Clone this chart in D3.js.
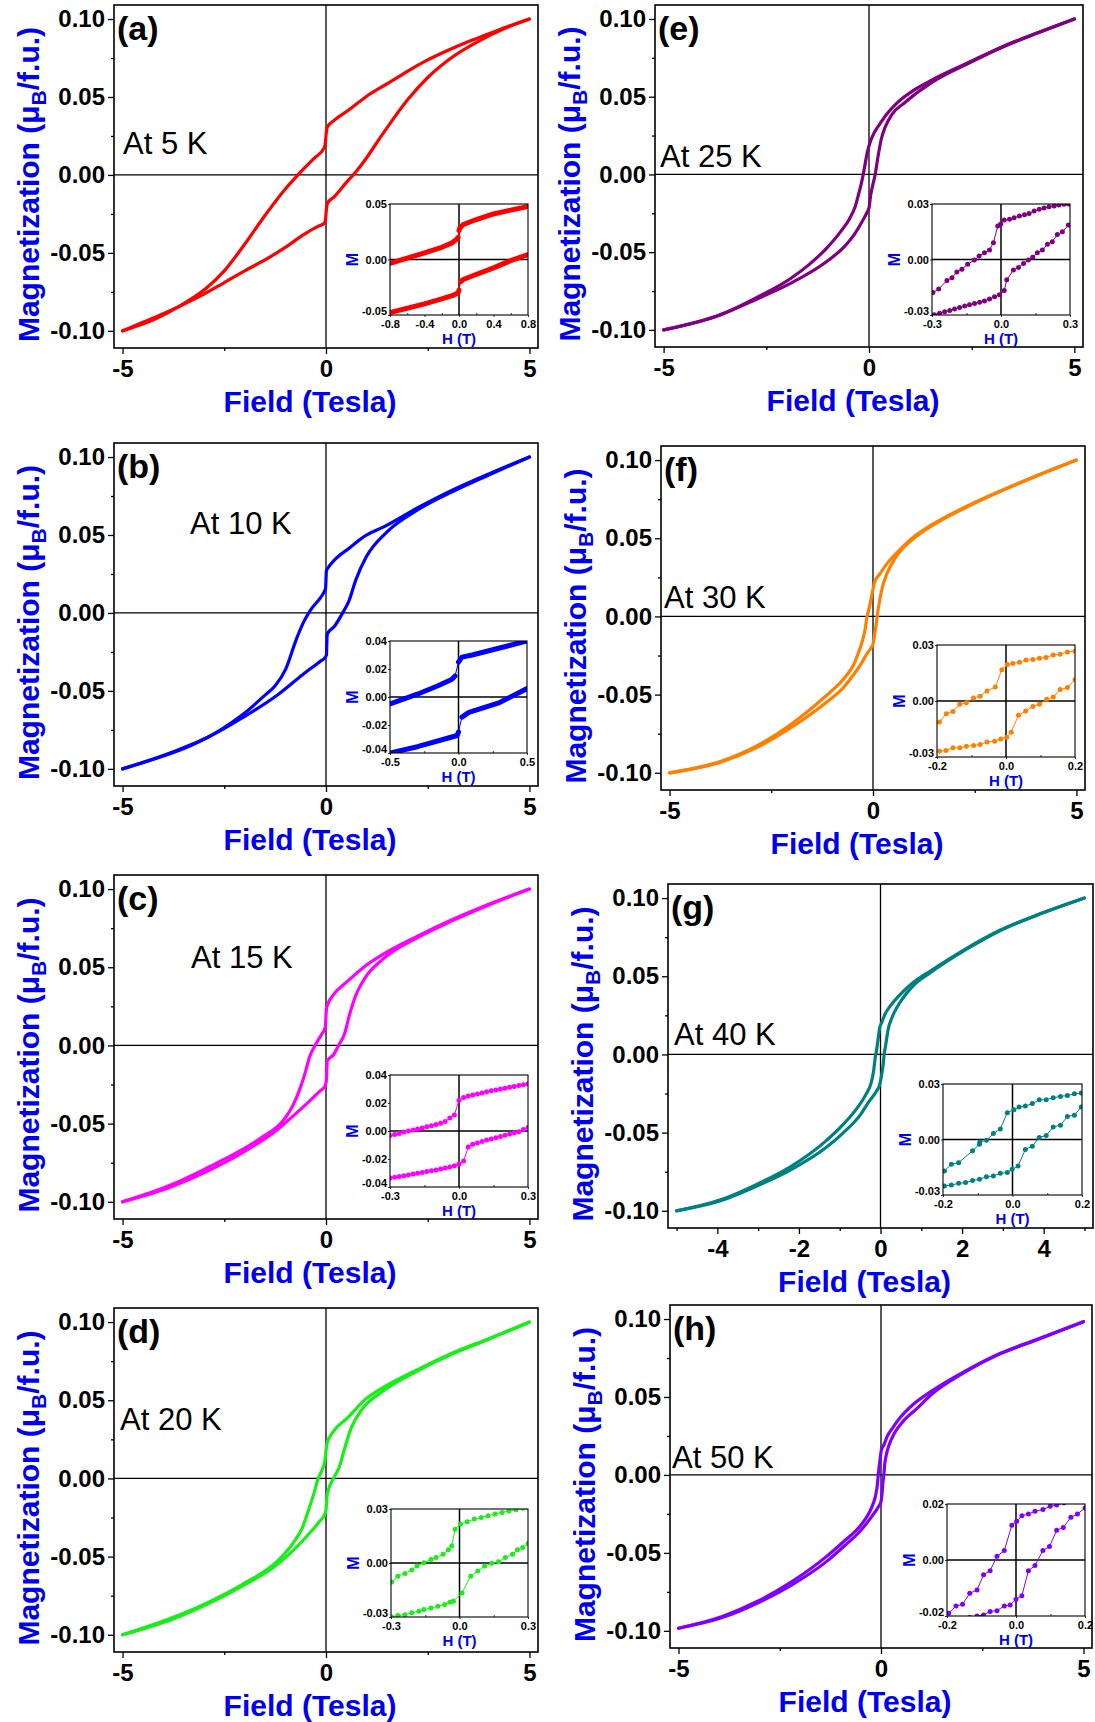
<!DOCTYPE html>
<html><head><meta charset="utf-8">
<script src="https://cdn.jsdelivr.net/npm/d3@7"></script>
<style>
html,body{margin:0;padding:0;background:#fff;}
svg{display:block;}
</style></head><body>
<svg id="fig" width="1095" height="1722"></svg>
<script>
// ---------- data: M-H hysteresis loops (H in Tesla, M in muB/f.u.) ----------
const panelIds = ["a", "b", "c", "d", "e", "f", "g", "h"];
const temperatures = [5, 10, 15, 20, 25, 30, 40, 50];
const colors = ["#ff0000", "#0000ff", "#ff00ff", "#18ee18", "#800080", "#ff8000", "#008080", "#8000ff"];

const mainXTicks = [-5, 0, 5];
const mainXMinor = [-2.5, 2.5];
const mainXTicksG = [-4, -2, 0, 2, 4];
const mainXMinorG = [-5, -3, -1, 1, 3, 5];
const mainYTicks = [-0.10, -0.05, 0.00, 0.05, 0.10];
const mainYMinor = [-0.075, -0.025, 0.025, 0.075];

// descending-field (down) and ascending-field (up) branches of each loop
const downA = [[5,0.100],[4.5,0.0955],[4,0.0905],[3.4,0.0845],[3,0.080],[2.44,0.073],[2,0.0665],[1.6,0.060],[1.0,0.0505],[0.55,0.0415],[0.2,0.035],[0.04,0.031],[0.01,0.028],[-0.01,0.022],[-0.04,0.0175],[-0.3,0.0105],[-0.69,0.0],[-1.0,-0.009],[-1.5,-0.026],[-2.0,-0.0445],[-2.5,-0.0615],[-2.96,-0.073],[-3.56,-0.0835],[-4.16,-0.092],[-5,-0.100]];
const upA = [[-5,-0.100],[-4.5,-0.0945],[-4,-0.089],[-3.5,-0.083],[-3,-0.0765],[-2.5,-0.069],[-2,-0.0615],[-1.5,-0.0545],[-1.0,-0.0465],[-0.56,-0.0385],[-0.2,-0.033],[-0.04,-0.031],[-0.01,-0.028],[0.01,-0.022],[0.04,-0.018],[0.2,-0.014],[0.56,-0.003],[0.67,0.0],[0.9,0.0075],[1.4,0.0265],[2.0,0.048],[2.5,0.0625],[3.1,0.0755],[3.8,0.0865],[4.4,0.094],[5,0.100]];

const downB = [[5,0.100],[4,0.0892],[3.14,0.0792],[2.28,0.0678],[1.42,0.0552],[0.99,0.0499],[0.56,0.0414],[0.21,0.034],[0.04,0.0285],[0.01,0.027],[-0.01,0.016],[-0.04,0.0138],[-0.13,0.010],[-0.39,0.0015],[-0.56,-0.0064],[-0.73,-0.017],[-0.99,-0.036],[-1.25,-0.0467],[-1.51,-0.053],[-2.03,-0.0648],[-2.55,-0.0743],[-3.32,-0.085],[-4.18,-0.0934],[-5,-0.100]];
const upB = [[-5,-0.100],[-3.75,-0.089],[-2.89,-0.0796],[-2.03,-0.0669],[-1.16,-0.052],[-0.56,-0.0393],[-0.13,-0.0308],[-0.02,-0.0285],[0.01,-0.027],[0.03,-0.0135],[0.21,-0.0085],[0.43,0.001],[0.56,0.0074],[0.73,0.021],[0.99,0.036],[1.5,0.052],[2.28,0.0665],[3.14,0.0782],[4,0.0885],[5,0.100]];

const downC = [[5,0.100],[3.97,0.090],[3.11,0.0805],[2.25,0.0699],[1.39,0.0581],[0.96,0.0507],[0.53,0.0411],[0.19,0.0326],[0.03,0.0255],[0.01,0.023],[-0.02,0.0113],[-0.11,0.007],[-0.27,0.0],[-0.41,-0.0079],[-0.5,-0.0164],[-0.63,-0.027],[-0.8,-0.0377],[-1.06,-0.0483],[-1.53,-0.058],[-2.05,-0.0665],[-2.91,-0.0782],[-3.77,-0.0888],[-5,-0.100]];
const upC = [[-5,-0.100],[-3.77,-0.090],[-2.91,-0.0803],[-2.05,-0.0686],[-1.19,-0.0537],[-0.58,-0.0398],[-0.15,-0.0292],[-0.02,-0.026],[0.01,-0.022],[0.03,-0.010],[0.19,-0.0058],[0.32,0.0006],[0.45,0.007],[0.58,0.0198],[0.71,0.0305],[0.96,0.0432],[1.39,0.055],[2.25,0.069],[3.11,0.0798],[3.97,0.0895],[5,0.100]];

const downD = [[5,0.100],[3.97,0.0891],[3.11,0.0802],[2.25,0.0696],[1.39,0.0579],[0.96,0.0504],[0.53,0.0387],[0.19,0.0302],[0.03,0.0228],[0.01,0.020],[-0.03,0.011],[-0.11,0.0047],[-0.2,-0.0006],[-0.28,-0.0081],[-0.41,-0.0187],[-0.58,-0.0315],[-0.8,-0.041],[-1.19,-0.0528],[-2.05,-0.0677],[-2.91,-0.0794],[-3.77,-0.089],[-5,-0.100]];
const upD = [[-5,-0.100],[-3.77,-0.090],[-2.91,-0.0804],[-2.05,-0.0687],[-1.19,-0.0549],[-0.58,-0.040],[-0.15,-0.0272],[-0.03,-0.023],[0.0,-0.020],[0.03,-0.0102],[0.19,0.0004],[0.32,0.0068],[0.45,0.0185],[0.62,0.0323],[0.88,0.044],[1.39,0.0557],[2.25,0.0688],[3.11,0.0797],[3.97,0.0887],[5,0.100]];

const downE = [[5,0.100],[4.12,0.0913],[3.26,0.0823],[2.4,0.0717],[1.55,0.061],[1.12,0.0547],[0.69,0.0462],[0.43,0.0387],[0.26,0.0323],[0.13,0.027],[0.04,0.0217],[-0.04,0.0143],[-0.13,0.0015],[-0.17,-0.0038],[-0.26,-0.0134],[-0.34,-0.0209],[-0.47,-0.0283],[-0.69,-0.0368],[-1.03,-0.0474],[-1.46,-0.058],[-1.89,-0.0666],[-2.75,-0.0794],[-3.6,-0.090],[-5,-0.100]];
const upE = [[-5,-0.100],[-3.6,-0.0902],[-2.75,-0.0804],[-1.89,-0.0698],[-1.03,-0.056],[-0.6,-0.0464],[-0.34,-0.0379],[-0.17,-0.0304],[-0.04,-0.024],[0.0,-0.0215],[0.04,-0.0134],[0.09,-0.007],[0.15,0.0],[0.21,0.010],[0.3,0.0228],[0.39,0.0302],[0.56,0.0387],[0.86,0.046],[1.55,0.0595],[2.4,0.0712],[3.26,0.082],[4.12,0.0911],[5,0.100]];

const downF = [[5,0.100],[3.99,0.0896],[3.13,0.0802],[2.27,0.070],[1.42,0.0582],[0.99,0.0507],[0.56,0.040],[0.34,0.0336],[0.17,0.0272],[0.04,0.0218],[-0.04,0.0122],[-0.11,0.0036],[-0.15,-0.0006],[-0.2,-0.0092],[-0.26,-0.0156],[-0.34,-0.022],[-0.47,-0.0306],[-0.73,-0.0402],[-1.16,-0.0509],[-1.59,-0.0605],[-2.02,-0.0691],[-2.87,-0.083],[-3.73,-0.0926],[-5,-0.100]];
const upF = [[-5,-0.100],[-3.73,-0.093],[-2.87,-0.084],[-2.02,-0.0712],[-1.16,-0.0552],[-0.73,-0.0456],[-0.47,-0.037],[-0.3,-0.0306],[-0.13,-0.0231],[-0.04,-0.0199],[0.0,-0.0178],[0.04,-0.0113],[0.09,-0.0028],[0.11,0.0015],[0.17,0.0111],[0.23,0.0186],[0.34,0.0272],[0.56,0.0379],[0.99,0.0496],[1.42,0.0575],[2.27,0.0695],[3.13,0.080],[3.99,0.0895],[5,0.100]];

const downG = [[5,0.100],[3.8,0.0888],[2.94,0.0796],[2.08,0.0674],[1.23,0.0535],[0.8,0.046],[0.45,0.0374],[0.24,0.031],[0.11,0.0257],[0.03,0.0203],[-0.02,0.0171],[-0.06,0.0096],[-0.1,0.0021],[-0.13,-0.0021],[-0.17,-0.0107],[-0.23,-0.0182],[-0.36,-0.0257],[-0.57,-0.0342],[-0.92,-0.0449],[-1.35,-0.0556],[-2.2,-0.0717],[-3.06,-0.0834],[-3.92,-0.093],[-5,-0.100]];
const upG = [[-5,-0.100],[-3.92,-0.0936],[-3.06,-0.0845],[-2.2,-0.0738],[-1.35,-0.0599],[-0.92,-0.0503],[-0.49,-0.0385],[-0.28,-0.030],[-0.1,-0.0235],[-0.02,-0.0193],[0.03,-0.0128],[0.07,-0.0053],[0.09,0.0],[0.13,0.0064],[0.18,0.015],[0.28,0.0235],[0.45,0.0321],[0.8,0.0439],[1.23,0.0524],[2.08,0.0668],[2.94,0.0793],[3.8,0.0886],[5,0.100]];

const downH = [[5,0.0983],[3.81,0.0865],[2.95,0.078],[2.09,0.0667],[1.23,0.0534],[0.8,0.0453],[0.46,0.0363],[0.28,0.0299],[0.15,0.0246],[0.07,0.0192],[0.01,0.016],[-0.03,0.0085],[-0.06,0.0021],[-0.09,-0.0064],[-0.13,-0.0128],[-0.19,-0.0182],[-0.32,-0.0256],[-0.49,-0.032],[-0.92,-0.0427],[-1.35,-0.0524],[-2.2,-0.0684],[-3.06,-0.0812],[-3.92,-0.0908],[-5,-0.0983]];
const upH = [[-5,-0.0983],[-3.92,-0.0915],[-3.06,-0.0823],[-2.2,-0.0705],[-1.35,-0.0556],[-0.92,-0.0459],[-0.49,-0.0353],[-0.23,-0.0267],[-0.06,-0.0203],[0.0,-0.0171],[0.03,-0.0107],[0.05,-0.0043],[0.07,0.0],[0.09,0.0064],[0.13,0.0128],[0.2,0.0192],[0.33,0.0267],[0.54,0.0342],[0.89,0.0427],[1.23,0.0513],[2.09,0.0662],[2.95,0.0778],[3.81,0.0863],[5,0.0983]];

// low-field insets; (a) and (b) are dense sweeps split at the jump near H = 0
const insetUpperA = [[[-0.8,-0.0035],[-0.4,0.006],[-0.2,0.011],[-0.08,0.015],[-0.03,0.018],[-0.01,0.020]], [[0.0,0.026],[0.01,0.0285],[0.05,0.0315],[0.2,0.036],[0.4,0.041],[0.6,0.0445],[0.8,0.0478]]];
const insetLowerA = [[[-0.8,-0.0478],[-0.4,-0.040],[-0.2,-0.0355],[-0.06,-0.032],[-0.01,-0.030],[0.0,-0.0275]], [[0.02,-0.020],[0.05,-0.018],[0.13,-0.0155],[0.4,-0.0075],[0.6,-0.001],[0.8,0.0045]]];
const insetUpperB = [[[-0.5,-0.0049],[-0.3,0.002],[-0.15,0.008],[-0.05,0.0125],[-0.025,0.015]], [[0.0,0.025],[0.025,0.0285],[0.1,0.030],[0.3,0.035],[0.5,0.040]]];
const insetLowerB = [[[-0.5,-0.040],[-0.3,-0.0355],[-0.1,-0.030],[-0.01,-0.0275],[0.0,-0.025]], [[0.025,-0.0144],[0.076,-0.011],[0.3,-0.004],[0.5,0.006]]];

const insetUpperC = [[-0.30,-0.0032],[-0.28,-0.0025],[-0.26,-0.0018],[-0.24,-0.0008],[-0.22,0.0],[-0.20,0.0008],[-0.18,0.0015],[-0.16,0.0022],[-0.14,0.003],[-0.12,0.0038],[-0.10,0.0047],[-0.08,0.0056],[-0.06,0.0068],[-0.04,0.0092],[-0.02,0.0115],[0.0,0.022],[0.02,0.024],[0.04,0.025],[0.06,0.0258],[0.08,0.0265],[0.10,0.0272],[0.12,0.028],[0.14,0.0287],[0.16,0.0293],[0.18,0.030],[0.20,0.0306],[0.22,0.0312],[0.24,0.0318],[0.26,0.0325],[0.28,0.0331],[0.30,0.0338]];
const insetLowerC = [[-0.30,-0.0335],[-0.28,-0.033],[-0.26,-0.0325],[-0.24,-0.032],[-0.22,-0.0314],[-0.20,-0.0308],[-0.18,-0.0302],[-0.16,-0.0296],[-0.14,-0.029],[-0.12,-0.0284],[-0.10,-0.0278],[-0.08,-0.0272],[-0.06,-0.0265],[-0.04,-0.0258],[-0.02,-0.0248],[0.0,-0.0235],[0.02,-0.0215],[0.04,-0.0115],[0.06,-0.0095],[0.08,-0.0085],[0.10,-0.0075],[0.12,-0.0065],[0.14,-0.0057],[0.16,-0.0048],[0.18,-0.004],[0.20,-0.003],[0.22,-0.0022],[0.24,-0.0013],[0.26,-0.0005],[0.28,0.001],[0.30,0.0025]];

const insetUpperD = [[-0.297,-0.0106],[-0.27,-0.0073],[-0.239,-0.0058],[-0.209,-0.0039],[-0.186,-0.0017],[-0.156,0.0002],[-0.125,0.002],[-0.103,0.003],[-0.072,0.0048],[-0.049,0.0073],[-0.034,0.0095],[-0.019,0.0188],[0.004,0.0216],[0.034,0.0229],[0.065,0.0244],[0.095,0.0253],[0.125,0.0263],[0.156,0.0272],[0.186,0.0281],[0.216,0.0289],[0.247,0.0296],[0.277,0.0304],[0.30,0.0309]];
const insetLowerD = [[-0.297,-0.030],[-0.27,-0.0292],[-0.239,-0.0287],[-0.209,-0.0277],[-0.178,-0.0268],[-0.156,-0.0259],[-0.125,-0.025],[-0.095,-0.024],[-0.065,-0.0231],[-0.042,-0.0218],[-0.027,-0.0212],[0.011,-0.0166],[0.049,-0.0073],[0.08,-0.0045],[0.11,-0.0017],[0.141,-0.0002],[0.171,0.0007],[0.201,0.003],[0.232,0.0048],[0.254,0.0073],[0.277,0.0086],[0.30,0.0108]];

const insetUpperE = [[-0.296,-0.0179],[-0.271,-0.0159],[-0.235,-0.0114],[-0.213,-0.0098],[-0.192,-0.0068],[-0.17,-0.0053],[-0.145,-0.0026],[-0.116,-0.0003],[-0.095,0.0019],[-0.072,0.0037],[-0.05,0.0051],[-0.033,0.0091],[-0.014,0.0181],[-0.001,0.0192],[0.014,0.0213],[0.037,0.0217],[0.057,0.0226],[0.08,0.0235],[0.102,0.0242],[0.122,0.0249],[0.144,0.0262],[0.166,0.0271],[0.187,0.0278],[0.209,0.0285],[0.231,0.0289],[0.252,0.0294],[0.274,0.0298],[0.294,0.030]];
const insetLowerE = [[-0.29,-0.0298],[-0.267,-0.0291],[-0.245,-0.0282],[-0.223,-0.0276],[-0.202,-0.0267],[-0.18,-0.026],[-0.158,-0.0251],[-0.137,-0.0244],[-0.115,-0.0238],[-0.093,-0.0231],[-0.072,-0.0224],[-0.05,-0.0213],[-0.028,-0.0202],[-0.007,-0.0191],[0.014,-0.0168],[0.025,-0.011],[0.054,-0.0057],[0.076,-0.0043],[0.098,-0.0021],[0.119,-0.0003],[0.138,0.0012],[0.158,0.0037],[0.18,0.0051],[0.202,0.0082],[0.223,0.0096],[0.245,0.0135],[0.267,0.015],[0.293,0.0186]];

const insetUpperF = [[-0.193,-0.0113],[-0.173,-0.0068],[-0.154,-0.0056],[-0.134,-0.0018],[-0.115,-0.0009],[-0.094,0.0016],[-0.075,0.0025],[-0.055,0.0054],[-0.031,0.0075],[-0.012,0.0168],[0.004,0.0195],[0.02,0.0201],[0.039,0.0208],[0.058,0.0219],[0.078,0.0222],[0.097,0.0229],[0.116,0.0233],[0.137,0.0247],[0.157,0.0251],[0.178,0.0263],[0.20,0.0267]];
const insetLowerF = [[-0.193,-0.0269],[-0.174,-0.0265],[-0.154,-0.0251],[-0.134,-0.0251],[-0.115,-0.0242],[-0.094,-0.0238],[-0.075,-0.0233],[-0.055,-0.022],[-0.033,-0.0215],[-0.015,-0.0203],[0.002,-0.0194],[0.015,-0.0167],[0.036,-0.0077],[0.057,-0.0054],[0.078,-0.0029],[0.097,-0.0018],[0.118,0.0009],[0.137,0.0022],[0.157,0.0061],[0.178,0.0072],[0.20,0.0115]];

const insetUpperG = [[-0.196,-0.017],[-0.176,-0.0134],[-0.155,-0.0125],[-0.115,-0.0061],[-0.095,-0.0025],[-0.094,-0.0014],[-0.075,-0.0004],[-0.055,0.0032],[-0.035,0.0057],[-0.015,0.0145],[0.004,0.0161],[0.019,0.0176],[0.037,0.0181],[0.057,0.0194],[0.077,0.0215],[0.097,0.0215],[0.117,0.0226],[0.138,0.0233],[0.158,0.0238],[0.178,0.0247],[0.198,0.0251]];
const insetLowerG = [[-0.196,-0.0251],[-0.176,-0.0246],[-0.155,-0.0237],[-0.135,-0.0233],[-0.115,-0.0222],[-0.095,-0.0215],[-0.075,-0.0201],[-0.055,-0.0197],[-0.035,-0.0183],[-0.015,-0.0179],[-0.001,-0.0161],[0.016,-0.0143],[0.037,-0.0054],[0.057,-0.0036],[0.077,0.0011],[0.097,0.0022],[0.117,0.0068],[0.138,0.0077],[0.158,0.0125],[0.178,0.0131],[0.198,0.0176]];

const insetUpperH = [[-0.195,-0.019],[-0.174,-0.0164],[-0.155,-0.0158],[-0.134,-0.0119],[-0.113,-0.0107],[-0.094,-0.0053],[-0.075,-0.0038],[-0.055,0.0013],[-0.034,0.0034],[-0.012,0.0124],[0.002,0.0138],[0.017,0.0158],[0.036,0.0164],[0.055,0.0174],[0.078,0.018],[0.099,0.0192],[0.118,0.0196],[0.139,0.0204]];
const insetLowerH = [[-0.134,-0.0205],[-0.113,-0.020],[-0.094,-0.0196],[-0.075,-0.0184],[-0.055,-0.0181],[-0.034,-0.0164],[-0.017,-0.0161],[0.0,-0.014],[0.017,-0.0128],[0.036,-0.0038],[0.055,-0.002],[0.078,0.0034],[0.097,0.0048],[0.118,0.0106],[0.137,0.0116],[0.159,0.0153],[0.178,0.0164],[0.20,0.0186]];

// inset axis ranges and tick labels
const insetXDomains = [[-0.8,0.8],[-0.5,0.5],[-0.3,0.3],[-0.3,0.3],[-0.3,0.3],[-0.2,0.2],[-0.2,0.2],[-0.2,0.2]];
const insetYDomains = [[-0.05,0.05],[-0.04,0.04],[-0.04,0.04],[-0.03,0.03],[-0.03,0.03],[-0.03,0.03],[-0.03,0.03],[-0.02,0.02]];
const insetXTicks = [[-0.8,-0.4,0,0.4,0.8],[-0.5,0,0.5],[-0.3,0,0.3],[-0.3,0,0.3],[-0.3,0,0.3],[-0.2,0,0.2],[-0.2,0,0.2],[-0.2,0,0.2]];
const insetYTicks = [[-0.05,0,0.05],[-0.04,-0.02,0,0.02,0.04],[-0.04,-0.02,0,0.02,0.04],[-0.03,0,0.03],[-0.03,0,0.03],[-0.03,0,0.03],[-0.03,0,0.03],[-0.02,0,0.02]];

// ---------- layout (pixel boxes) ----------
const frames = [
  {x0:114, x1:538, y0:5,    y1:348},
  {x0:114, x1:538, y0:443,  y1:786},
  {x0:114, x1:538, y0:875,  y1:1219},
  {x0:114, x1:538, y0:1308, y1:1652},
  {x0:655, x1:1083, y0:5,   y1:347},
  {x0:661, x1:1085, y0:446, y1:790},
  {x0:668, x1:1093, y0:884, y1:1228},
  {x0:670, x1:1092, y0:1305, y1:1648}
];
const insetBoxes = [
  {x0:390, x1:528, y0:204,  y1:315},
  {x0:390, x1:527, y0:641,  y1:753},
  {x0:390, x1:528, y0:1075, y1:1187},
  {x0:391, x1:528, y0:1509, y1:1617},
  {x0:932, x1:1070, y0:204, y1:315},
  {x0:937, x1:1075, y0:645, y1:757},
  {x0:943, x1:1082, y0:1084, y1:1195},
  {x0:947, x1:1085, y0:1504, y1:1616}
];
const tempLabelPos = [[123,143],[190,523],[191,957],[120,1419],[660,156],[664,597],[674,1034],[672,1457]];

const panels = panelIds.map((id, i) => ({
  id, T: temperatures[i], color: colors[i],
  down: [downA,downB,downC,downD,downE,downF,downG,downH][i],
  up: [upA,upB,upC,upD,upE,upF,upG,upH][i],
  insetUpper: [insetUpperA,insetUpperB,insetUpperC,insetUpperD,insetUpperE,insetUpperF,insetUpperG,insetUpperH][i],
  insetLower: [insetLowerA,insetLowerB,insetLowerC,insetLowerD,insetLowerE,insetLowerF,insetLowerG,insetLowerH][i],
  dense: i < 2,
  xTicks: id === "g" ? mainXTicksG : mainXTicks,
  xMinor: id === "g" ? mainXMinorG : mainXMinor,
  frame: frames[i], inset: insetBoxes[i],
  ixDom: insetXDomains[i], iyDom: insetYDomains[i], ixTicks: insetXTicks[i], iyTicks: insetYTicks[i],
  label: tempLabelPos[i]
}));

// ---------- drawing ----------
const FONT = '"Liberation Sans", Arial, Helvetica, sans-serif';
const BLUE = "#0000f0";
const svg = d3.select("#fig");
const noMinus = s => s.replace(/\u2212/g, "-");
const mainXDomain = [-5.21, 5.21];
const mainYDomain = [-0.111, 0.109];

function styleAxis(sel, size, weight) {
  sel.select(".domain").remove();
  sel.selectAll("line").attr("stroke", "#000").attr("stroke-width", 1.3);
  sel.selectAll("text").attr("font-family", FONT).attr("font-size", size)
     .attr("font-weight", weight).attr("fill", "#000");
  sel.attr("font-family", null).attr("font-size", null);
}

panels.forEach(drawPanel);

function drawPanel(p) {
  const L = p.frame;
  const g = svg.append("g").attr("class", "panel-" + p.id);
  const x = d3.scaleLinear().domain(mainXDomain).range([L.x0, L.x1]);
  const y = d3.scaleLinear().domain(mainYDomain).range([L.y1, L.y0]);

  // zero reference lines
  g.append("line").attr("x1", x(0)).attr("x2", x(0)).attr("y1", L.y0).attr("y2", L.y1)
    .attr("stroke", "#000").attr("stroke-width", 1.3);
  g.append("line").attr("x1", L.x0).attr("x2", L.x1).attr("y1", y(0)).attr("y2", y(0))
    .attr("stroke", "#000").attr("stroke-width", 1.3);

  // loop branches
  const line = d3.line().x(d => x(d[0])).y(d => y(d[1])).curve(d3.curveMonotoneX);
  [p.down, p.up].forEach(br => {
    g.append("path").datum(br.slice().sort((a, b) => a[0] - b[0]))
      .attr("d", line).attr("fill", "none").attr("stroke", p.color)
      .attr("stroke-width", 3.2).attr("stroke-linejoin", "round").attr("stroke-linecap", "round");
  });

  // axes
  const xa = g.append("g").attr("transform", `translate(0,${L.y1})`)
    .call(d3.axisBottom(x).tickValues(p.xTicks).tickSize(6).tickPadding(6)
      .tickFormat(d => noMinus(d3.format("d")(d))));
  styleAxis(xa, 24, "bold");
  const xm = g.append("g").attr("transform", `translate(0,${L.y1})`)
    .call(d3.axisBottom(x).tickValues(p.xMinor).tickSize(3).tickFormat(""));
  styleAxis(xm, 10, "normal");
  const ya = g.append("g").attr("transform", `translate(${L.x0},0)`)
    .call(d3.axisLeft(y).tickValues(mainYTicks).tickSize(6).tickPadding(3)
      .tickFormat(d => noMinus(d3.format(".2f")(d))));
  styleAxis(ya, 24, "bold");
  const ym = g.append("g").attr("transform", `translate(${L.x0},0)`)
    .call(d3.axisLeft(y).tickValues(mainYMinor).tickSize(3).tickFormat(""));
  styleAxis(ym, 10, "normal");

  // frame
  g.append("rect").attr("x", L.x0).attr("y", L.y0).attr("width", L.x1 - L.x0).attr("height", L.y1 - L.y0)
    .attr("fill", "none").attr("stroke", "#000").attr("stroke-width", 1.6);

  // axis titles
  g.append("text").attr("x", (L.x0 + L.x1) / 2 - 16).attr("y", L.y1 + 64)
    .attr("text-anchor", "middle").attr("font-family", FONT).attr("font-size", 30)
    .attr("font-weight", "bold").attr("fill", BLUE).text("Field (Tesla)");
  const cy = (L.y0 + L.y1) / 2 + 8;
  const yt = g.append("text").attr("transform", `translate(${L.x0 - 75},${cy}) rotate(-90)`)
    .attr("text-anchor", "middle").attr("font-family", FONT).attr("font-size", 30)
    .attr("font-weight", "bold").attr("fill", BLUE);
  yt.append("tspan").text("Magnetization (\u03bc");
  yt.append("tspan").attr("font-size", 21).attr("dy", 7).text("B");
  yt.append("tspan").attr("dy", -7).text("/f.u.)");

  // panel letter and temperature
  g.append("text").attr("x", L.x0 + 3).attr("y", L.y0 + 35).attr("font-family", FONT)
    .attr("font-size", 34).attr("font-weight", "bold").attr("fill", "#000").text(`(${p.id})`);
  g.append("text").attr("x", p.label[0]).attr("y", p.label[1] + 11).attr("font-family", FONT)
    .attr("font-size", 31).attr("fill", "#000").text(`At ${p.T} K`);

  drawInset(g, p);
}

function drawInset(parent, p) {
  const B = p.inset;
  const g = parent.append("g").attr("class", "inset");
  const x = d3.scaleLinear().domain(p.ixDom).range([B.x0, B.x1]);
  const y = d3.scaleLinear().domain(p.iyDom).range([B.y1, B.y0]);
  const clipId = "clip-" + p.id;
  g.append("clipPath").attr("id", clipId).append("rect")
    .attr("x", B.x0).attr("y", B.y0).attr("width", B.x1 - B.x0).attr("height", B.y1 - B.y0);
  g.append("rect").attr("x", B.x0).attr("y", B.y0).attr("width", B.x1 - B.x0).attr("height", B.y1 - B.y0)
    .attr("fill", "#fff");

  g.append("line").attr("x1", x(0)).attr("x2", x(0)).attr("y1", B.y0).attr("y2", B.y1)
    .attr("stroke", "#000").attr("stroke-width", 1.5);
  g.append("line").attr("x1", B.x0).attr("x2", B.x1).attr("y1", y(0)).attr("y2", y(0))
    .attr("stroke", "#000").attr("stroke-width", 1.5);

  const plot = g.append("g").attr("clip-path", `url(#${clipId})`);
  const line = d3.line().x(d => x(d[0])).y(d => y(d[1]));
  if (p.dense) {
    [p.insetUpper, p.insetLower].forEach(segs => {
      // thin joins across the jump, then the dense sweeps
      plot.append("path").datum([segs[0][segs[0].length - 1], segs[1][0]]).attr("d", line)
        .attr("fill", "none").attr("stroke", p.color).attr("stroke-width", 1);
      segs.forEach(s => plot.append("path").datum(s).attr("d", line).attr("fill", "none")
        .attr("stroke", p.color).attr("stroke-width", 5).attr("stroke-linecap", "round")
        .attr("stroke-linejoin", "round"));
    });
  } else {
    [p.insetUpper, p.insetLower].forEach(br => {
      plot.append("path").datum(br).attr("d", line).attr("fill", "none")
        .attr("stroke", p.color).attr("stroke-width", 1);
      plot.selectAll(null).data(br).enter().append("circle")
        .attr("cx", d => x(d[0])).attr("cy", d => y(d[1])).attr("r", 2.5).attr("fill", p.color);
    });
  }

  g.append("rect").attr("x", B.x0).attr("y", B.y0).attr("width", B.x1 - B.x0).attr("height", B.y1 - B.y0)
    .attr("fill", "none").attr("stroke", "#000").attr("stroke-width", 1.1);

  const xf = d => noMinus(d3.format(".1f")(d));
  const yf = d => noMinus(d3.format(".2f")(d));
  const xa = g.append("g").attr("transform", `translate(0,${B.y1})`)
    .call(d3.axisBottom(x).tickValues(p.ixTicks).tickSize(2).tickPadding(3).tickFormat(xf));
  styleAxis(xa, 11, "bold");
  xa.selectAll("line").attr("stroke-width", 0.8);
  const xMin = d3.pairs(p.ixTicks).map(([a, b]) => (a + b) / 2);
  const xm = g.append("g").attr("transform", `translate(0,${B.y1})`)
    .call(d3.axisTop(x).tickValues(xMin).tickSize(2).tickFormat(""));
  styleAxis(xm, 10, "normal");
  xm.selectAll("line").attr("stroke-width", 0.8);
  const ya = g.append("g").attr("transform", `translate(${B.x0},0)`)
    .call(d3.axisLeft(y).tickValues(p.iyTicks).tickSize(2).tickPadding(1).tickFormat(yf));
  styleAxis(ya, 11, "bold");
  ya.selectAll("line").attr("stroke-width", 0.8);
  // lift the lowest label a little so it clears the corner x label
  ya.selectAll(".tick").filter(d => d === p.iyDom[0]).select("text").attr("dy", "-0.05em");

  g.append("text").attr("x", (B.x0 + B.x1) / 2).attr("y", B.y1 + 29).attr("text-anchor", "middle")
    .attr("font-family", FONT).attr("font-size", 15).attr("font-weight", "bold").attr("fill", BLUE)
    .text("H (T)");
  g.append("text").attr("transform", `translate(${B.x0 - 38},${(B.y0 + B.y1) / 2}) rotate(-90)`)
    .attr("text-anchor", "middle").attr("dominant-baseline", "central").attr("font-family", FONT)
    .attr("font-size", 16).attr("font-weight", "bold").attr("fill", BLUE).text("M");
}
</script>
</body></html>
